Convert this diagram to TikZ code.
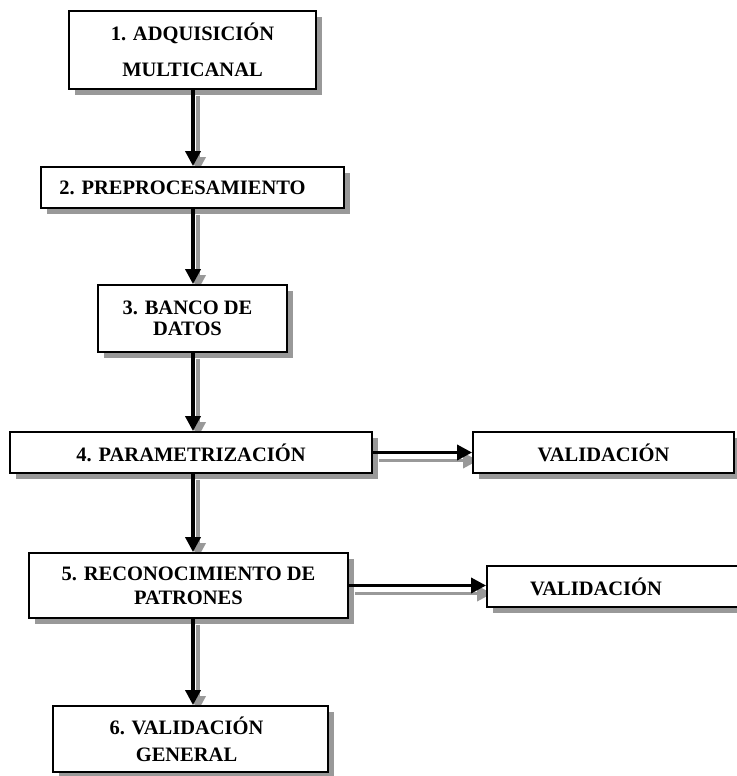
\documentclass[tikz,border=0pt]{standalone}
\usepackage{fontspec}
\setmainfont{Liberation Serif}
\usetikzlibrary{arrows.meta,shadows}
\definecolor{shade}{gray}{0.6}
\pgfdeclarelayer{back}
\pgfsetlayers{back,main}
\tikzset{
  box/.style={draw=black, line width=1.8pt, fill=white, inner sep=0pt, align=center,
    font=\bfseries\fontsize{20.5}{24}\selectfont,
    drop shadow={shadow xshift=6pt, shadow yshift=-6pt, fill=shade, opacity=1}},
  flow/.style={line width=3.4pt, -{Triangle[length=15pt,width=15pt]}},
  flowshade/.style={flow, draw=shade},
  vshade/.style={flowshade, transform canvas={xshift=5pt,yshift=-6pt}},
  hshade/.style={flowshade, transform canvas={xshift=6pt,yshift=-8pt}},
}
% moves a line of box text to the left by half the given length
\newcommand{\txtshift}[1]{\hspace*{-#1}}
\begin{document}
\begin{tikzpicture}[x=1pt,y=-1pt]
\useasboundingbox (0,0) rectangle (736,776);

% main column of steps
\node[box, minimum width=247, minimum height=78, font=\bfseries\fontsize{20.5}{36}\selectfont]
  (b1) at (192.5,50) {1. ADQUISICIÓN\\MULTICANAL};
\node[box, minimum width=303, minimum height=41] (b2) at (192.5,187.5) {\txtshift{20pt}2. PREPROCESAMIENTO};
\node[box, minimum width=189, minimum height=67, font=\bfseries\fontsize{20.5}{21}\selectfont]
  (b3) at (192.5,318.5) {\txtshift{10pt}3. BANCO DE\\\txtshift{10pt}DATOS};
\node[box, minimum width=362, minimum height=41] (b4) at (191,452.5) {4. PARAMETRIZACIÓN};
\node[box, minimum width=319, minimum height=65] (b5) at (188.5,585.5) {5. RECONOCIMIENTO DE\\PATRONES};
\node[box, minimum width=275, minimum height=66, font=\bfseries\fontsize{20.5}{27}\selectfont]
  (b6) at (190.5,739) {\txtshift{8pt}6. VALIDACIÓN\\\txtshift{8pt}GENERAL};

% validation boxes on the right
\node[box, minimum width=261, minimum height=41] (v1) at (603.5,452.5) {VALIDACIÓN};
\node[box, minimum width=258, minimum height=41] (v2) at (616,586.5) {\txtshift{40pt}VALIDACIÓN};

\coordinate (sp) at (193,0);

% shaded copies of the connectors
\begin{pgfonlayer}{back}
\draw[vshade] (b1.south -| sp) -- (b2.north -| sp);
\draw[vshade] (b2.south -| sp) -- (b3.north -| sp);
\draw[vshade] (b3.south -| sp) -- (b4.north -| sp);
\draw[vshade] (b4.south -| sp) -- (b5.north -| sp);
\draw[vshade] (b5.south -| sp) -- (b6.north -| sp);
\draw[hshade] (b4.east) -- (b4.east -| v1.west);
\draw[hshade] (b5.east) -- (b5.east -| v2.west);
\end{pgfonlayer}

% connectors
\draw[flow] (b1.south -| sp) -- (b2.north -| sp);
\draw[flow] (b2.south -| sp) -- (b3.north -| sp);
\draw[flow] (b3.south -| sp) -- (b4.north -| sp);
\draw[flow] (b4.south -| sp) -- (b5.north -| sp);
\draw[flow] (b5.south -| sp) -- (b6.north -| sp);
\draw[flow] (b4.east) -- (b4.east -| v1.west);
\draw[flow] (b5.east) -- (b5.east -| v2.west);
\end{tikzpicture}
\end{document}
